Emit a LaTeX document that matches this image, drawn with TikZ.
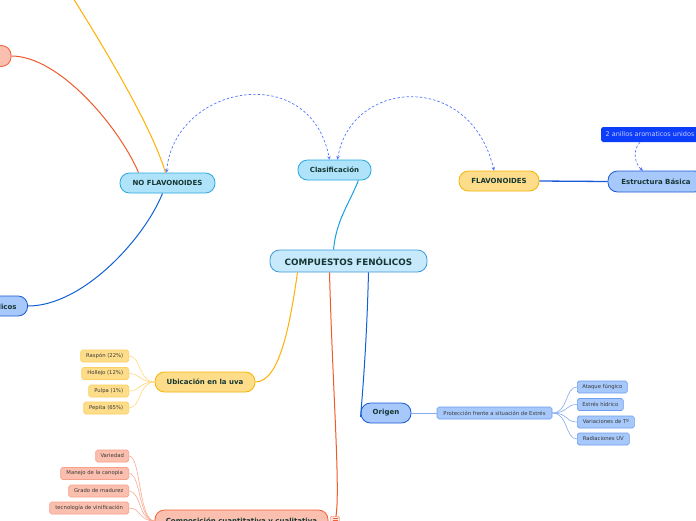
\documentclass[tikz,border=0pt]{standalone}
\usepackage{fontspec}
\setmainfont{DejaVu Sans}
\usetikzlibrary{arrows.meta}
\definecolor{cfFill}{HTML}{C6E9FB}
\definecolor{cfDraw}{HTML}{3D9BD9}
\definecolor{cyFill}{HTML}{AEE3F9}
\definecolor{cyDraw}{HTML}{2AA8E2}
\definecolor{ylFill}{HTML}{FEDD8A}
\definecolor{ylDraw}{HTML}{F5B400}
\definecolor{ylLeafDraw}{HTML}{FCCF62}
\definecolor{ylLine}{HTML}{FFD87A}
\definecolor{blFill}{HTML}{A7C8FA}
\definecolor{blDraw}{HTML}{1A5AD6}
\definecolor{blLeafDraw}{HTML}{6E9EF0}
\definecolor{blLine}{HTML}{86ACF2}
\definecolor{pkFill}{HTML}{FABFAE}
\definecolor{pkDraw}{HTML}{F2603A}
\definecolor{pkLeafDraw}{HTML}{F7A08A}
\definecolor{pkLine}{HTML}{F8AA94}
\definecolor{dkBlue}{HTML}{0B3DFB}
\definecolor{dashBlue}{HTML}{5577FF}
\definecolor{lnOrange}{HTML}{FFB000}
\definecolor{lnRed}{HTML}{F05A28}
\definecolor{lnBlue}{HTML}{1062D4}
\definecolor{lnCyan}{HTML}{12A2E2}
\definecolor{txMain}{HTML}{153633}
\definecolor{txLeaf}{HTML}{3A3A3A}
\tikzset{
  mainbox/.style={rounded corners=9.5pt, draw, line width=0.8pt, minimum height=20pt, inner sep=0pt, text=txMain, font=\bfseries\fontsize{7}{8}\selectfont},
  leafbox/.style={rounded corners=1.8pt, draw, line width=0.6pt, minimum height=12pt, inner sep=0pt, text=txLeaf, font=\fontsize{5.3}{6}\selectfont},
  dashconn/.style={dashBlue, dashed, line width=0.7pt, dash pattern=on 2.5pt off 2pt},
  tipA/.style={-{Stealth[length=3.5pt,width=3.5pt]}},
  tipB/.style={{Stealth[length=3.5pt,width=3.5pt]}-{Stealth[length=3.5pt,width=3.5pt]}}
}
\begin{document}
\begin{tikzpicture}[x=1pt,y=-1pt]
\useasboundingbox (0,0) rectangle (696,520);
\fill[white] (0,0) rectangle (696,520);

% main nodes
\node[mainbox, fill=cfFill, draw=cfDraw, minimum width=157pt, minimum height=22pt, text=txMain, font=\bfseries\fontsize{8.8}{9}\selectfont] (cf) at (348.5,261) {COMPUESTOS FENÓLICOS};
\node[mainbox, fill=cyFill, draw=cyDraw, minimum width=73pt] (clas) at (334.5,170) {Clasificación};
\node[mainbox, fill=cyFill, draw=cyDraw, minimum width=95pt] (nof) at (167.5,183) {NO FLAVONOIDES};
\node[mainbox, fill=ylFill, draw=ylDraw, minimum width=80pt] (flav) at (499,181) {FLAVONOIDES};
\node[mainbox, fill=blFill, draw=blDraw, minimum width=96pt, minimum height=21pt] (estr) at (656,181.5) {Estructura Básica};
\node[rounded corners=1.8pt, fill=dkBlue, minimum width=98pt, minimum height=15pt, inner sep=0pt, text=white!80!blue, font=\fontsize{6.5}{7}\selectfont] (anil) at (650,134.5) {2 anillos aromaticos unidos};
\node[mainbox, fill=pkFill, draw=pkDraw, minimum width=82pt, minimum height=21pt] (pinkL) at (-30,56) {};
\node[mainbox, fill=blFill, draw=blDraw, anchor=east, inner xsep=11pt] (blueL) at (28,306) {Ácidos fenólicos};
\node[mainbox, fill=ylFill, draw=ylDraw, minimum width=100pt] (ubic) at (205,382) {Ubicación en la uva};
\node[mainbox, fill=blFill, draw=blDraw, minimum width=50pt] (orig) at (386,413) {Origen};
\node[mainbox, fill=pkFill, draw=pkDraw, minimum width=173pt, minimum height=22pt] (comp) at (241.5,521) {Composición cuantitativa y cualitativa};

% leaves: yellow
\node[leafbox, fill=ylFill, draw=ylLeafDraw, anchor=east, minimum width=48pt] (ras) at (129,356) {Raspón (22\%)};
\node[leafbox, fill=ylFill, draw=ylLeafDraw, anchor=east, minimum width=47pt] (hol) at (129,373.5) {Hollejo (12\%)};
\node[leafbox, fill=ylFill, draw=ylLeafDraw, anchor=east, minimum width=40pt] (pul) at (129,391) {Pulpa (1\%)};
\node[leafbox, fill=ylFill, draw=ylLeafDraw, anchor=east, minimum width=45pt] (pep) at (129,408) {Pepita (65\%)};

% leaves: blue
\node[leafbox, fill=blFill, draw=blLeafDraw, minimum width=115pt] (prot) at (494.5,413) {Protección frente a situación de Estrés};
\node[leafbox, fill=blFill, draw=blLeafDraw, anchor=west, minimum width=50pt] (ataq) at (577,387) {Ataque fúngico};
\node[leafbox, fill=blFill, draw=blLeafDraw, anchor=west, minimum width=46pt] (estres) at (577,404.5) {Estrés hídrico};
\node[leafbox, fill=blFill, draw=blLeafDraw, anchor=west, minimum width=57pt] (vari) at (577,422) {Variaciones de Tº};
\node[leafbox, fill=blFill, draw=blLeafDraw, anchor=west, minimum width=52pt] (radi) at (577,439) {Radiaciones UV};

% leaves: pink
\node[leafbox, fill=pkFill, draw=pkLeafDraw, anchor=east, minimum width=33pt] (vard) at (129,456) {Variedad};
\node[leafbox, fill=pkFill, draw=pkLeafDraw, anchor=east, minimum width=68pt] (mane) at (129,473.5) {Manejo de la canopia};
\node[leafbox, fill=pkFill, draw=pkLeafDraw, anchor=east, minimum width=60pt] (grad) at (129,491) {Grado de madurez};
\node[leafbox, fill=pkFill, draw=pkLeafDraw, anchor=east, minimum width=79pt] (tecn) at (129,508) {tecnología de vinificación};

% free end of the orange branch (off the top edge)
\coordinate (otop) at (73,-2);

% connectors from NO FLAVONOIDES
\draw[lnOrange, line width=1pt] ([xshift=-2pt]nof.north) .. controls +(-15,-50) and +(22,35) .. (otop);
\draw[lnRed, line width=1pt] (pinkL.east) .. controls +(49,0) and +(-18,-43) .. ([xshift=-29pt]nof.north);
\draw[lnBlue, line width=1pt] ([xshift=-5pt]nof.south) .. controls +(-18,45) and +(55,0) .. (blueL.east);

% central connectors
\draw[lnCyan, line width=1pt] ([xshift=-13pt]clas.south east) .. controls +(-10,25) and +(3,-30) .. ([xshift=-15pt]cf.north);
\draw[lnOrange, line width=1pt] ([xshift=-51pt]cf.south) .. controls +(-7,48) and +(25,0) .. (ubic.east);
\draw[lnRed, line width=1pt] ([xshift=-19pt]cf.south) .. controls +(4,150) and +(17,25) .. (comp.east);
\draw[lnBlue, line width=1pt] ([xshift=20pt]cf.south) .. controls +(-2,80) and +(1,-15) .. ([yshift=-4pt]orig.west);
\draw[blDraw, line width=1.3pt] (flav.east) -- (estr.west);

% sub connectors
\draw[blLine, line width=0.7pt] (orig.east) -- (prot.west);
\foreach \n in {ataq,estres,vari,radi}
  \draw[blLine, line width=0.6pt] (prot.east) .. controls +(16,0) and +(-12,0) .. (\n.west);
\foreach \n in {ras,hol,pul,pep}
  \draw[ylLine, line width=0.6pt] (ubic.west) .. controls +(-16,0) and +(12,0) .. (\n.east);
\foreach \n in {vard,mane,grad,tecn}
  \draw[pkLine, line width=0.6pt] (comp.west) .. controls +(-16,0) and +(12,0) .. (\n.east);

% dashed relations
\draw[dashconn, tipB] ([xshift=-1pt]nof.north) .. controls +(8,-88) and +(-19,-100) .. ([xshift=-5pt]clas.north);
\draw[dashconn, tipB] ([xshift=3pt]clas.north) .. controls +(13,-80) and +(-24,-101) .. ([xshift=-5pt]flav.north);
\draw[dashconn, tipA] ([xshift=-10pt]anil.south) .. controls +(-8,8) and +(-8,-6) .. ([xshift=-13pt]estr.north);

% collapse icon at the composition node
\node[draw=pkDraw, fill=pkFill!40, rounded corners=1pt, minimum width=9pt, minimum height=7pt, inner sep=0pt] (icon) at (335,520) {};
\foreach \dy in {-1.6,0,1.6}
  \draw[pkDraw, line width=0.5pt] ([xshift=-2.5pt,yshift=\dy pt]icon.center) -- ([xshift=2.5pt,yshift=\dy pt]icon.center);

\end{tikzpicture}
\end{document}
